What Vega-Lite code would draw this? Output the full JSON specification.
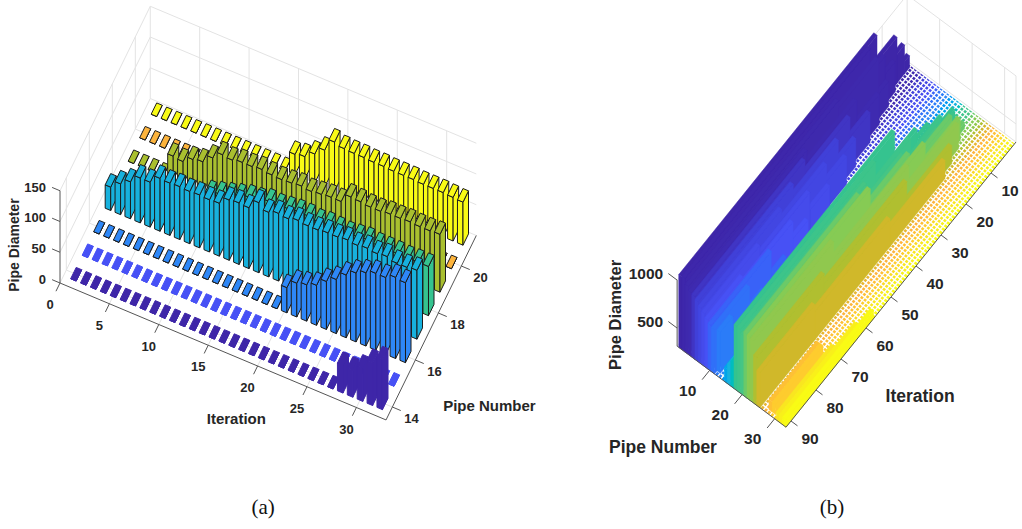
{"$schema":"https://vega.github.io/schema/vega-lite/v6.json","width":1022,"height":529,"padding":0,"autosize":{"type":"none"},"background":"white","config":{"view":{"stroke":null}},
"datasets":{
"aBars":[
{"p":21,"i":1,"d":0},{"p":21,"i":2,"d":0},{"p":21,"i":3,"d":0},{"p":21,"i":4,"d":0},{"p":21,"i":5,"d":0},{"p":21,"i":6,"d":0},{"p":21,"i":7,"d":0},{"p":21,"i":8,"d":0},{"p":21,"i":9,"d":0},{"p":21,"i":10,"d":0},{"p":21,"i":11,"d":0},{"p":21,"i":12,"d":0},{"p":21,"i":13,"d":0},{"p":21,"i":14,"d":0},{"p":21,"i":15,"d":33},{"p":21,"i":16,"d":36},{"p":21,"i":17,"d":47},{"p":21,"i":18,"d":60},{"p":21,"i":19,"d":80},{"p":21,"i":20,"d":76},{"p":21,"i":21,"d":75},{"p":21,"i":22,"d":75},{"p":21,"i":23,"d":74},{"p":21,"i":24,"d":74},{"p":21,"i":25,"d":73},{"p":21,"i":26,"d":73},{"p":21,"i":27,"d":73},{"p":21,"i":28,"d":72},{"p":21,"i":29,"d":72},{"p":21,"i":30,"d":72},{"p":21,"i":31,"d":71},{"p":21,"i":32,"d":70},
{"p":20,"i":1,"d":0},{"p":20,"i":2,"d":0},{"p":20,"i":3,"d":0},{"p":20,"i":4,"d":0},{"p":20,"i":5,"d":0},{"p":20,"i":6,"d":0},{"p":20,"i":7,"d":0},{"p":20,"i":8,"d":0},{"p":20,"i":9,"d":0},{"p":20,"i":10,"d":0},{"p":20,"i":11,"d":0},{"p":20,"i":12,"d":0},{"p":20,"i":13,"d":0},{"p":20,"i":14,"d":0},{"p":20,"i":15,"d":0},{"p":20,"i":16,"d":0},{"p":20,"i":17,"d":0},{"p":20,"i":18,"d":0},{"p":20,"i":19,"d":0},{"p":20,"i":20,"d":0},{"p":20,"i":21,"d":0},{"p":20,"i":22,"d":0},{"p":20,"i":23,"d":0},{"p":20,"i":24,"d":0},{"p":20,"i":25,"d":0},{"p":20,"i":26,"d":0},{"p":20,"i":27,"d":0},{"p":20,"i":28,"d":0},{"p":20,"i":29,"d":0},{"p":20,"i":30,"d":0},{"p":20,"i":31,"d":0},{"p":20,"i":32,"d":0},
{"p":19,"i":1,"d":0},{"p":19,"i":2,"d":0},{"p":19,"i":3,"d":0},{"p":19,"i":4,"d":0},{"p":19,"i":5,"d":39},{"p":19,"i":6,"d":37},{"p":19,"i":7,"d":47},{"p":19,"i":8,"d":50},{"p":19,"i":9,"d":63},{"p":19,"i":10,"d":75},{"p":19,"i":11,"d":73},{"p":19,"i":12,"d":76},{"p":19,"i":13,"d":76},{"p":19,"i":14,"d":78},{"p":19,"i":15,"d":76},{"p":19,"i":16,"d":75},{"p":19,"i":17,"d":76},{"p":19,"i":18,"d":78},{"p":19,"i":19,"d":76},{"p":19,"i":20,"d":78},{"p":19,"i":21,"d":80},{"p":19,"i":22,"d":80},{"p":19,"i":23,"d":94},{"p":19,"i":24,"d":93},{"p":19,"i":25,"d":91},{"p":19,"i":26,"d":91},{"p":19,"i":27,"d":93},{"p":19,"i":28,"d":93},{"p":19,"i":29,"d":94},{"p":19,"i":30,"d":93},{"p":19,"i":31,"d":93},{"p":19,"i":32,"d":94},
{"p":18,"i":1,"d":0},{"p":18,"i":2,"d":0},{"p":18,"i":3,"d":0},{"p":18,"i":4,"d":0},{"p":18,"i":5,"d":0},{"p":18,"i":6,"d":0},{"p":18,"i":7,"d":0},{"p":18,"i":8,"d":0},{"p":18,"i":9,"d":0},{"p":18,"i":10,"d":50},{"p":18,"i":11,"d":55},{"p":18,"i":12,"d":60},{"p":18,"i":13,"d":65},{"p":18,"i":14,"d":70},{"p":18,"i":15,"d":72},{"p":18,"i":16,"d":77},{"p":18,"i":17,"d":76},{"p":18,"i":18,"d":78},{"p":18,"i":19,"d":80},{"p":18,"i":20,"d":80},{"p":18,"i":21,"d":78},{"p":18,"i":22,"d":80},{"p":18,"i":23,"d":79},{"p":18,"i":24,"d":78},{"p":18,"i":25,"d":80},{"p":18,"i":26,"d":82},{"p":18,"i":27,"d":80},{"p":18,"i":28,"d":80},{"p":18,"i":29,"d":80},{"p":18,"i":30,"d":79},{"p":18,"i":31,"d":80},{"p":18,"i":32,"d":80},
{"p":17,"i":1,"d":38},{"p":17,"i":2,"d":50},{"p":17,"i":3,"d":60},{"p":17,"i":4,"d":73},{"p":17,"i":5,"d":73},{"p":17,"i":6,"d":86},{"p":17,"i":7,"d":85},{"p":17,"i":8,"d":86},{"p":17,"i":9,"d":85},{"p":17,"i":10,"d":86},{"p":17,"i":11,"d":85},{"p":17,"i":12,"d":86},{"p":17,"i":13,"d":98},{"p":17,"i":14,"d":100},{"p":17,"i":15,"d":99},{"p":17,"i":16,"d":114},{"p":17,"i":17,"d":105},{"p":17,"i":18,"d":110},{"p":17,"i":19,"d":108},{"p":17,"i":20,"d":112},{"p":17,"i":21,"d":110},{"p":17,"i":22,"d":110},{"p":17,"i":23,"d":112},{"p":17,"i":24,"d":112},{"p":17,"i":25,"d":114},{"p":17,"i":26,"d":112},{"p":17,"i":27,"d":114},{"p":17,"i":28,"d":112},{"p":17,"i":29,"d":114},{"p":17,"i":30,"d":110},{"p":17,"i":31,"d":110},{"p":17,"i":32,"d":112},
{"p":16,"i":1,"d":0},{"p":16,"i":2,"d":0},{"p":16,"i":3,"d":0},{"p":16,"i":4,"d":0},{"p":16,"i":5,"d":0},{"p":16,"i":6,"d":0},{"p":16,"i":7,"d":0},{"p":16,"i":8,"d":0},{"p":16,"i":9,"d":0},{"p":16,"i":10,"d":0},{"p":16,"i":11,"d":0},{"p":16,"i":12,"d":0},{"p":16,"i":13,"d":0},{"p":16,"i":14,"d":0},{"p":16,"i":15,"d":0},{"p":16,"i":16,"d":0},{"p":16,"i":17,"d":0},{"p":16,"i":18,"d":0},{"p":16,"i":19,"d":0},{"p":16,"i":20,"d":41},{"p":16,"i":21,"d":55},{"p":16,"i":22,"d":59},{"p":16,"i":23,"d":65},{"p":16,"i":24,"d":78},{"p":16,"i":25,"d":88},{"p":16,"i":26,"d":102},{"p":16,"i":27,"d":112},{"p":16,"i":28,"d":119},{"p":16,"i":29,"d":125},{"p":16,"i":30,"d":125},{"p":16,"i":31,"d":132},{"p":16,"i":32,"d":130},
{"p":15,"i":1,"d":0},{"p":15,"i":2,"d":0},{"p":15,"i":3,"d":0},{"p":15,"i":4,"d":0},{"p":15,"i":5,"d":0},{"p":15,"i":6,"d":0},{"p":15,"i":7,"d":0},{"p":15,"i":8,"d":0},{"p":15,"i":9,"d":0},{"p":15,"i":10,"d":0},{"p":15,"i":11,"d":0},{"p":15,"i":12,"d":0},{"p":15,"i":13,"d":0},{"p":15,"i":14,"d":0},{"p":15,"i":15,"d":0},{"p":15,"i":16,"d":0},{"p":15,"i":17,"d":0},{"p":15,"i":18,"d":0},{"p":15,"i":19,"d":0},{"p":15,"i":20,"d":0},{"p":15,"i":21,"d":0},{"p":15,"i":22,"d":0},{"p":15,"i":23,"d":0},{"p":15,"i":24,"d":0},{"p":15,"i":25,"d":0},{"p":15,"i":26,"d":0},{"p":15,"i":27,"d":0},{"p":15,"i":28,"d":0},{"p":15,"i":29,"d":0},{"p":15,"i":30,"d":0},{"p":15,"i":31,"d":0},{"p":15,"i":32,"d":0},
{"p":14,"i":1,"d":0},{"p":14,"i":2,"d":0},{"p":14,"i":3,"d":0},{"p":14,"i":4,"d":0},{"p":14,"i":5,"d":0},{"p":14,"i":6,"d":0},{"p":14,"i":7,"d":0},{"p":14,"i":8,"d":0},{"p":14,"i":9,"d":0},{"p":14,"i":10,"d":0},{"p":14,"i":11,"d":0},{"p":14,"i":12,"d":0},{"p":14,"i":13,"d":0},{"p":14,"i":14,"d":0},{"p":14,"i":15,"d":0},{"p":14,"i":16,"d":0},{"p":14,"i":17,"d":0},{"p":14,"i":18,"d":0},{"p":14,"i":19,"d":0},{"p":14,"i":20,"d":0},{"p":14,"i":21,"d":0},{"p":14,"i":22,"d":0},{"p":14,"i":23,"d":0},{"p":14,"i":24,"d":0},{"p":14,"i":25,"d":0},{"p":14,"i":26,"d":0},{"p":14,"i":27,"d":0},{"p":14,"i":28,"d":45},{"p":14,"i":29,"d":44},{"p":14,"i":30,"d":54},{"p":14,"i":31,"d":70},{"p":14,"i":32,"d":81}
],
"aRules":[
{"k":"g","i":0,"p":21.3,"z":0,"i2":33,"p2":21.3,"z2":0},{"k":"g","i":0,"p":21.3,"z":50,"i2":33,"p2":21.3,"z2":50},{"k":"g","i":0,"p":21.3,"z":100,"i2":33,"p2":21.3,"z2":100},{"k":"g","i":0,"p":21.3,"z":150,"i2":33,"p2":21.3,"z2":150},
{"k":"g","i":0,"p":21.3,"z":0,"i2":0,"p2":21.3,"z2":150},{"k":"g","i":5,"p":21.3,"z":0,"i2":5,"p2":21.3,"z2":150},{"k":"g","i":10,"p":21.3,"z":0,"i2":10,"p2":21.3,"z2":150},{"k":"g","i":15,"p":21.3,"z":0,"i2":15,"p2":21.3,"z2":150},{"k":"g","i":20,"p":21.3,"z":0,"i2":20,"p2":21.3,"z2":150},{"k":"g","i":25,"p":21.3,"z":0,"i2":25,"p2":21.3,"z2":150},{"k":"g","i":30,"p":21.3,"z":0,"i2":30,"p2":21.3,"z2":150},
{"k":"g","i":0,"p":13.45,"z":50,"i2":0,"p2":21.3,"z2":50},{"k":"g","i":0,"p":13.45,"z":100,"i2":0,"p2":21.3,"z2":100},{"k":"g","i":0,"p":13.45,"z":150,"i2":0,"p2":21.3,"z2":150},
{"k":"g","i":0,"p":14,"z":0,"i2":0,"p2":14,"z2":150},{"k":"g","i":0,"p":16,"z":0,"i2":0,"p2":16,"z2":150},{"k":"g","i":0,"p":18,"z":0,"i2":0,"p2":18,"z2":150},{"k":"g","i":0,"p":20,"z":0,"i2":0,"p2":20,"z2":150},
{"k":"g","i":0,"p":13.45,"z":0,"i2":0,"p2":21.3,"z2":0},{"k":"g","i":5,"p":13.45,"z":0,"i2":5,"p2":21.3,"z2":0},{"k":"g","i":10,"p":13.45,"z":0,"i2":10,"p2":21.3,"z2":0},{"k":"g","i":15,"p":13.45,"z":0,"i2":15,"p2":21.3,"z2":0},{"k":"g","i":20,"p":13.45,"z":0,"i2":20,"p2":21.3,"z2":0},{"k":"g","i":25,"p":13.45,"z":0,"i2":25,"p2":21.3,"z2":0},{"k":"g","i":30,"p":13.45,"z":0,"i2":30,"p2":21.3,"z2":0},
{"k":"g","i":0,"p":14,"z":0,"i2":33,"p2":14,"z2":0},{"k":"g","i":0,"p":16,"z":0,"i2":33,"p2":16,"z2":0},{"k":"g","i":0,"p":18,"z":0,"i2":33,"p2":18,"z2":0},{"k":"g","i":0,"p":20,"z":0,"i2":33,"p2":20,"z2":0}
],
"aAxes":[
{"k":"a","i":0,"p":13.45,"z":0,"i2":0,"p2":13.45,"z2":150},{"k":"a","i":0,"p":13.45,"z":0,"i2":33,"p2":13.45,"z2":0},{"k":"a","i":33,"p":13.45,"z":0,"i2":33,"p2":21.3,"z2":0},
{"k":"a","i":0,"p":13.45,"z":0,"i2":-0.8,"p2":13.45,"z2":0},{"k":"a","i":0,"p":13.45,"z":50,"i2":-0.8,"p2":13.45,"z2":50},{"k":"a","i":0,"p":13.45,"z":100,"i2":-0.8,"p2":13.45,"z2":100},{"k":"a","i":0,"p":13.45,"z":150,"i2":-0.8,"p2":13.45,"z2":150},
{"k":"a","i":0,"p":13.45,"z":0,"i2":0,"p2":13.1,"z2":0},{"k":"a","i":5,"p":13.45,"z":0,"i2":5,"p2":13.1,"z2":0},{"k":"a","i":10,"p":13.45,"z":0,"i2":10,"p2":13.1,"z2":0},{"k":"a","i":15,"p":13.45,"z":0,"i2":15,"p2":13.1,"z2":0},{"k":"a","i":20,"p":13.45,"z":0,"i2":20,"p2":13.1,"z2":0},{"k":"a","i":25,"p":13.45,"z":0,"i2":25,"p2":13.1,"z2":0},{"k":"a","i":30,"p":13.45,"z":0,"i2":30,"p2":13.1,"z2":0},
{"k":"a","i":33,"p":14,"z":0,"i2":33.85,"p2":14,"z2":0},{"k":"a","i":33,"p":16,"z":0,"i2":33.85,"p2":16,"z2":0},{"k":"a","i":33,"p":18,"z":0,"i2":33.85,"p2":18,"z2":0},{"k":"a","i":33,"p":20,"z":0,"i2":33.85,"p2":20,"z2":0}
],
"aText":[
{"k":"tick","t":"0","i":0.064,"p":12.525,"z":0},{"k":"tick","t":"5","i":5.064,"p":12.525,"z":0},{"k":"tick","t":"10","i":10.064,"p":12.525,"z":0},{"k":"tick","t":"15","i":15.064,"p":12.525,"z":0},{"k":"tick","t":"20","i":20.064,"p":12.525,"z":0},{"k":"tick","t":"25","i":25.064,"p":12.525,"z":0},{"k":"tick","t":"30","i":30.064,"p":12.525,"z":0},
{"k":"tick","t":"14","i":35.09,"p":13.858,"z":0},{"k":"tick","t":"16","i":35.09,"p":15.858,"z":0},{"k":"tick","t":"18","i":35.09,"p":17.858,"z":0},{"k":"tick","t":"20","i":35.09,"p":19.858,"z":0},
{"k":"title","t":"Iteration","i":20.4,"p":11.26,"z":0},{"k":"title","t":"Pipe Number","i":41.1,"p":15.48,"z":0}
],
"aV":[{"t":"Pipe Diameter","i":-5.34,"p":14.12,"z":0}],
"aZ":[{"t":"0","i":-1.3,"p":13.35,"z":0},{"t":"50","i":-1.3,"p":13.35,"z":50},{"t":"100","i":-1.3,"p":13.35,"z":100},{"t":"150","i":-1.3,"p":13.35,"z":150}],
"aCap":[{"t":"(a)","i":26.3,"p":8.52,"z":0}],
"bFloor":[{"p":1},{"p":2},{"p":3},{"p":4},{"p":5},{"p":6},{"p":7},{"p":8},{"p":9},{"p":10},{"p":11},{"p":12},{"p":13},{"p":14},{"p":15},{"p":16},{"p":17},{"p":18},{"p":19},{"p":20},{"p":21},{"p":22},{"p":23},{"p":24},{"p":25},{"p":26},{"p":27},{"p":28},{"p":29},{"p":30},{"p":31},{"p":32},{"p":33}],
"bMeshI":[{"i":1},{"i":2},{"i":3},{"i":4},{"i":5},{"i":6},{"i":7},{"i":8},{"i":9},{"i":10},{"i":11},{"i":12},{"i":13},{"i":14},{"i":15},{"i":16},{"i":17},{"i":18},{"i":19},{"i":20},{"i":21},{"i":22},{"i":23},{"i":24},{"i":25},{"i":26},{"i":27},{"i":28},{"i":29},{"i":30},{"i":31},{"i":32},{"i":33},{"i":34},{"i":35},{"i":36},{"i":37},{"i":38},{"i":39},{"i":40},{"i":41},{"i":42},{"i":43},{"i":44},{"i":45},{"i":46},{"i":47},{"i":48},{"i":49},{"i":50},{"i":51},{"i":52},{"i":53},{"i":54},{"i":55},{"i":56},{"i":57},{"i":58},{"i":59},{"i":60},{"i":61},{"i":62},{"i":63},{"i":64},{"i":65},{"i":66},{"i":67},{"i":68},{"i":69},{"i":70},{"i":71},{"i":72},{"i":73},{"i":74},{"i":75},{"i":76},{"i":77},{"i":78},{"i":79},{"i":80},{"i":81},{"i":82},{"i":83},{"i":84},{"i":85},{"i":86},{"i":87},{"i":88},{"i":89},{"i":90},{"i":91}],
"bBlocks":[
{"p":1,"a":1,"b":3,"d":437},{"p":1,"a":3,"b":6,"d":614},{"p":1,"a":6,"b":14,"d":791},{"p":1,"a":14,"b":92,"d":1070},
{"p":2,"a":8,"b":12,"d":625},{"p":2,"a":12,"b":18,"d":812},{"p":2,"a":18,"b":92,"d":1083},
{"p":3,"a":12,"b":16,"d":572},{"p":3,"a":16,"b":32,"d":937},{"p":3,"a":32,"b":92,"d":1021},
{"p":4,"a":17,"b":26,"d":625},{"p":4,"a":26,"b":46,"d":854},{"p":4,"a":46,"b":92,"d":979},
{"p":5,"a":22,"b":30,"d":625},{"p":5,"a":30,"b":48,"d":833},{"p":5,"a":48,"b":92,"d":968},
{"p":6,"a":29,"b":36,"d":604},{"p":6,"a":36,"b":54,"d":812},{"p":6,"a":54,"b":92,"d":937},
{"p":7,"a":34,"b":42,"d":604},{"p":7,"a":42,"b":60,"d":781},{"p":7,"a":60,"b":92,"d":895},
{"p":8,"a":42,"b":50,"d":583},{"p":8,"a":50,"b":70,"d":770},{"p":8,"a":70,"b":92,"d":864},
{"p":9,"a":52,"b":58,"d":572},{"p":9,"a":58,"b":78,"d":750},{"p":9,"a":78,"b":92,"d":823},
{"p":10,"a":62,"b":68,"d":541},{"p":10,"a":68,"b":92,"d":791},
{"p":11,"a":72,"b":78,"d":541},{"p":11,"a":78,"b":92,"d":770},
{"p":12,"a":82,"b":86,"d":520},{"p":12,"a":86,"b":91,"d":739},
{"p":15,"a":86,"b":92,"d":458},{"p":16,"a":84,"b":92,"d":520},{"p":17,"a":83,"b":92,"d":572},
{"p":18,"a":5,"b":10,"d":437},{"p":18,"a":10,"b":15,"d":520},{"p":18,"a":15,"b":20,"d":604},{"p":18,"a":20,"b":29,"d":708},{"p":18,"a":29,"b":92,"d":979},
{"p":19,"a":6,"b":12,"d":437},{"p":19,"a":12,"b":24,"d":572},{"p":19,"a":24,"b":38,"d":770},{"p":19,"a":38,"b":92,"d":979},
{"p":20,"a":7,"b":14,"d":416},{"p":20,"a":14,"b":28,"d":572},{"p":20,"a":28,"b":43,"d":750},{"p":20,"a":43,"b":92,"d":937},
{"p":21,"a":5,"b":10,"d":375},{"p":21,"a":10,"b":27,"d":604},{"p":21,"a":27,"b":47,"d":760},{"p":21,"a":47,"b":92,"d":979},
{"p":22,"a":8,"b":22,"d":541},{"p":22,"a":22,"b":44,"d":729},{"p":22,"a":44,"b":92,"d":968},
{"p":23,"a":10,"b":30,"d":572},{"p":23,"a":30,"b":60,"d":781},{"p":23,"a":60,"b":92,"d":958},
{"p":24,"a":14,"b":32,"d":500},{"p":24,"a":32,"b":65,"d":708},{"p":24,"a":65,"b":92,"d":812},
{"p":25,"a":18,"b":40,"d":500},{"p":25,"a":40,"b":70,"d":604},{"p":25,"a":70,"b":92,"d":677},
{"p":28,"a":72,"b":91,"d":416},{"p":29,"a":72,"b":91,"d":416},
{"p":31,"a":70,"b":92,"d":395},{"p":32,"a":62,"b":92,"d":395},{"p":33,"a":57,"b":92,"d":395}
],
"bRules":[
{"k":"g","i":0,"p":0,"z":312,"i2":92,"p2":0,"z2":312},{"k":"g","i":0,"p":0,"z":500,"i2":92,"p2":0,"z2":500},{"k":"g","i":0,"p":0,"z":1000,"i2":92,"p2":0,"z2":1000},
{"k":"g","i":0,"p":0,"z":312,"i2":0,"p2":33.5,"z2":312},{"k":"g","i":0,"p":0,"z":500,"i2":0,"p2":33.5,"z2":500},{"k":"g","i":0,"p":0,"z":1000,"i2":0,"p2":33.5,"z2":1000},
{"k":"g","i":0,"p":10,"z":312,"i2":0,"p2":10,"z2":1000},{"k":"g","i":0,"p":20,"z":312,"i2":0,"p2":20,"z2":1000},{"k":"g","i":0,"p":30,"z":312,"i2":0,"p2":30,"z2":1000},{"k":"g","i":0,"p":33.5,"z":312,"i2":0,"p2":33.5,"z2":1000},
{"k":"g","i":0,"p":0,"z":312,"i2":0,"p2":0,"z2":1000},{"k":"g","i":10,"p":0,"z":312,"i2":10,"p2":0,"z2":1000},{"k":"g","i":20,"p":0,"z":312,"i2":20,"p2":0,"z2":1000}
],
"bAxes":[
{"k":"a","i":92,"p":0,"z":312,"i2":92,"p2":0,"z2":1000},{"k":"a","i":92,"p":0,"z":312,"i2":92,"p2":33.5,"z2":312},{"k":"a","i":92,"p":33.5,"z":312,"i2":0,"p2":33.5,"z2":312},
{"k":"a","i":92,"p":0,"z":500,"i2":92,"p2":-2.7,"z2":500},{"k":"a","i":92,"p":0,"z":1000,"i2":92,"p2":-2.7,"z2":1000},
{"k":"a","i":92,"p":10,"z":312,"i2":95,"p2":10,"z2":312},{"k":"a","i":92,"p":20,"z":312,"i2":95,"p2":20,"z2":312},{"k":"a","i":92,"p":30,"z":312,"i2":95,"p2":30,"z2":312},
{"k":"a","i":10,"p":33.5,"z":312,"i2":10,"p2":35.5,"z2":312},{"k":"a","i":20,"p":33.5,"z":312,"i2":20,"p2":35.5,"z2":312},{"k":"a","i":30,"p":33.5,"z":312,"i2":30,"p2":35.5,"z2":312},{"k":"a","i":40,"p":33.5,"z":312,"i2":40,"p2":35.5,"z2":312},{"k":"a","i":50,"p":33.5,"z":312,"i2":50,"p2":35.5,"z2":312},{"k":"a","i":60,"p":33.5,"z":312,"i2":60,"p2":35.5,"z2":312},{"k":"a","i":70,"p":33.5,"z":312,"i2":70,"p2":35.5,"z2":312},{"k":"a","i":80,"p":33.5,"z":312,"i2":80,"p2":35.5,"z2":312},{"k":"a","i":90,"p":33.5,"z":312,"i2":90,"p2":35.5,"z2":312}
],
"bText":[
{"k":"tick","t":"10","i":10.78,"p":39.95,"z":312},{"k":"tick","t":"20","i":20.78,"p":39.95,"z":312},{"k":"tick","t":"30","i":30.78,"p":39.95,"z":312},{"k":"tick","t":"40","i":40.78,"p":39.95,"z":312},{"k":"tick","t":"50","i":50.78,"p":39.95,"z":312},{"k":"tick","t":"60","i":60.78,"p":39.95,"z":312},{"k":"tick","t":"70","i":70.78,"p":39.95,"z":312},{"k":"tick","t":"80","i":80.78,"p":39.95,"z":312},{"k":"tick","t":"90","i":90.78,"p":39.95,"z":312},
{"k":"tick","t":"10","i":99.43,"p":8.95,"z":312},{"k":"tick","t":"20","i":99.43,"p":18.95,"z":312},{"k":"tick","t":"30","i":99.43,"p":28.95,"z":312},
{"k":"title","t":"Iteration","i":65.8,"p":54.6,"z":312},{"k":"title","t":"Pipe Number","i":114.7,"p":13.1,"z":312}
],
"bV":[{"t":"Pipe Diameter","i":94.9,"p":-16.6,"z":312}],
"bZ":[{"t":"500","i":92.79,"p":-3.7,"z":500},{"t":"1000","i":92.79,"p":-3.7,"z":1000}],
"bCap":[{"t":"(b)","i":101.4,"p":54.9,"z":312}]
},
"layer":[
{"data":{"name":"aRules"},"transform":[
{"calculate":"60+9.88*datum.i+11.5*(datum.p-13.45)","as":"sx"},{"calculate":"283+4.15*datum.i-23.5*(datum.p-13.45)-0.615*datum.z","as":"sy"},
{"calculate":"60+9.88*datum.i2+11.5*(datum.p2-13.45)","as":"sx2"},{"calculate":"283+4.15*datum.i2-23.5*(datum.p2-13.45)-0.615*datum.z2","as":"sy2"}],
"mark":{"type":"rule","stroke":"#e3e3e3","strokeWidth":1},
"encoding":{"x":{"field":"sx","type":"quantitative","scale":{"domain":[0,1022],"nice":false,"zero":false},"axis":null},"y":{"field":"sy","type":"quantitative","scale":{"domain":[0,529],"reverse":true,"nice":false,"zero":false},"axis":null},"x2":{"field":"sx2"},"y2":{"field":"sy2"}}},
{"data":{"name":"aBars"},"transform":[
{"calculate":"[0,1,2]","as":"f"},{"flatten":["f"]},{"calculate":"[0,1,2,3]","as":"v"},{"flatten":["v"]},
{"calculate":"datum.i+0.28*[[-1,1,1,-1],[1,1,1,1],[-1,1,1,-1]][datum.f][datum.v]","as":"vi"},
{"calculate":"datum.p+0.24*[[-1,-1,-1,-1],[-1,1,1,-1],[-1,-1,1,1]][datum.f][datum.v]","as":"vp"},
{"calculate":"datum.d*[[0,0,1,1],[0,0,1,1],[1,1,1,1]][datum.f][datum.v]","as":"vz"},
{"calculate":"60+9.88*datum.vi+11.5*(datum.vp-13.45)","as":"sx"},{"calculate":"283+4.15*datum.vi-23.5*(datum.vp-13.45)-0.615*datum.vz","as":"sy"},
{"calculate":"(30-datum.p)*100000+datum.i*100+datum.f","as":"fid"}],
"mark":{"type":"line","interpolate":"linear-closed","strokeWidth":1,"strokeJoin":"round"},
"encoding":{"x":{"field":"sx","type":"quantitative","axis":null},"y":{"field":"sy","type":"quantitative","axis":null},"order":{"field":"v"},"detail":{"field":"fid"},
"fill":{"field":"p","type":"nominal","legend":null,"scale":{"domain":[14,15,16,17,18,19,20,21],"range":["#3E26A8","#4751F5","#2E87F7","#17B1DD","#35C38F","#A9BF2F","#FDB43C","#F9FB15"]}},
"stroke":{"field":"p","type":"nominal","legend":null,"scale":{"domain":[14,15,16,17,18,19,20,21],"range":["#3E26A8","#4751F5","#1c1c1c","#1c1c1c","#1c1c1c","#1c1c1c","#1c1c1c","#1c1c1c"]}}}},
{"data":{"name":"aAxes"},"transform":[
{"calculate":"60+9.88*datum.i+11.5*(datum.p-13.45)","as":"sx"},{"calculate":"283+4.15*datum.i-23.5*(datum.p-13.45)-0.615*datum.z","as":"sy"},
{"calculate":"60+9.88*datum.i2+11.5*(datum.p2-13.45)","as":"sx2"},{"calculate":"283+4.15*datum.i2-23.5*(datum.p2-13.45)-0.615*datum.z2","as":"sy2"}],
"mark":{"type":"rule","stroke":"#555555","strokeWidth":1},
"encoding":{"x":{"field":"sx","type":"quantitative","axis":null},"y":{"field":"sy","type":"quantitative","axis":null},"x2":{"field":"sx2"},"y2":{"field":"sy2"}}},
{"data":{"name":"aText"},"transform":[
{"calculate":"60+9.88*datum.i+11.5*(datum.p-13.45)","as":"sx"},{"calculate":"283+4.15*datum.i-23.5*(datum.p-13.45)-0.615*datum.z","as":"sy"}],
"mark":{"type":"text","font":"Liberation Sans","fontWeight":"bold","color":"#262626","baseline":"middle","align":"center"},
"encoding":{"x":{"field":"sx","type":"quantitative","axis":null},"y":{"field":"sy","type":"quantitative","axis":null},"text":{"field":"t"},
"size":{"field":"k","type":"nominal","legend":null,"scale":{"domain":["tick","title"],"range":[13,15]}}}},
{"data":{"name":"aV"},"transform":[
{"calculate":"60+9.88*datum.i+11.5*(datum.p-13.45)","as":"sx"},{"calculate":"283+4.15*datum.i-23.5*(datum.p-13.45)-0.615*datum.z","as":"sy"}],
"mark":{"type":"text","font":"Liberation Sans","fontWeight":"bold","fontSize":14,"angle":270,"color":"#262626","baseline":"middle","align":"center"},
"encoding":{"x":{"field":"sx","type":"quantitative","axis":null},"y":{"field":"sy","type":"quantitative","axis":null},"text":{"field":"t"}}},
{"data":{"name":"aZ"},"transform":[
{"calculate":"60+9.88*datum.i+11.5*(datum.p-13.45)","as":"sx"},{"calculate":"283+4.15*datum.i-23.5*(datum.p-13.45)-0.615*datum.z","as":"sy"}],
"mark":{"type":"text","font":"Liberation Sans","fontWeight":"bold","fontSize":13,"color":"#262626","baseline":"middle","align":"right"},
"encoding":{"x":{"field":"sx","type":"quantitative","axis":null},"y":{"field":"sy","type":"quantitative","axis":null},"text":{"field":"t"}}},
{"data":{"name":"aCap"},"transform":[
{"calculate":"60+9.88*datum.i+11.5*(datum.p-13.45)","as":"sx"},{"calculate":"283+4.15*datum.i-23.5*(datum.p-13.45)-0.615*datum.z","as":"sy"}],
"mark":{"type":"text","font":"Liberation Serif","fontSize":21,"color":"#111111","baseline":"middle","align":"center"},
"encoding":{"x":{"field":"sx","type":"quantitative","axis":null},"y":{"field":"sy","type":"quantitative","axis":null},"text":{"field":"t"}}},
{"data":{"name":"bRules"},"transform":[
{"calculate":"1016-2.5*datum.i+3.25*(datum.p-33.5)","as":"sx"},{"calculate":"142+3.1*datum.i+2.42*(datum.p-33.5)-0.096*(datum.z-312)","as":"sy"},
{"calculate":"1016-2.5*datum.i2+3.25*(datum.p2-33.5)","as":"sx2"},{"calculate":"142+3.1*datum.i2+2.42*(datum.p2-33.5)-0.096*(datum.z2-312)","as":"sy2"}],
"mark":{"type":"rule","stroke":"#e3e3e3","strokeWidth":1},
"encoding":{"x":{"field":"sx","type":"quantitative","axis":null},"y":{"field":"sy","type":"quantitative","axis":null},"x2":{"field":"sx2"},"y2":{"field":"sy2"}}},
{"data":{"name":"bFloor"},"transform":[
{"calculate":"[0,1,2,3]","as":"v"},{"flatten":["v"]},
{"calculate":"0.5+91.5*[0,1,1,0][datum.v]","as":"vi"},{"calculate":"datum.p+0.5*[-1,-1,1,1][datum.v]","as":"vp"},
{"calculate":"1016-2.5*datum.vi+3.25*(datum.vp-33.5)","as":"sx"},{"calculate":"142+3.1*datum.vi+2.42*(datum.vp-33.5)","as":"sy"}],
"mark":{"type":"line","interpolate":"linear-closed","strokeWidth":0},
"encoding":{"x":{"field":"sx","type":"quantitative","axis":null},"y":{"field":"sy","type":"quantitative","axis":null},"order":{"field":"v"},"detail":{"field":"p"},
"fill":{"field":"p","type":"quantitative","legend":null,"scale":{"domain":[1,4,6,9,11,13,16,18,20,21.5,23,24,25,27,31,33],"range":["#3E26A8","#3E2AB0","#4040D8","#4751F5","#3070F8","#2E87F7","#17B1DD","#35C38F","#45C585","#80CC58","#90C84E","#B0BF30","#D0B82A","#FDB43C","#F9E620","#F9FB15"]}}}},
{"data":{"name":"bMeshI"},"transform":[
{"calculate":"1016-2.5*datum.i+3.25*(0.5-33.5)","as":"sx"},{"calculate":"142+3.1*datum.i+2.42*(0.5-33.5)","as":"sy"},
{"calculate":"1016-2.5*datum.i","as":"sx2"},{"calculate":"142+3.1*datum.i","as":"sy2"}],
"mark":{"type":"rule","stroke":"white","strokeWidth":1.4},
"encoding":{"x":{"field":"sx","type":"quantitative","axis":null},"y":{"field":"sy","type":"quantitative","axis":null},"x2":{"field":"sx2"},"y2":{"field":"sy2"}}},
{"data":{"name":"bFloor"},"transform":[
{"calculate":"1016-2.5*0.5+3.25*(datum.p-0.5-33.5)","as":"sx"},{"calculate":"142+3.1*0.5+2.42*(datum.p-0.5-33.5)","as":"sy"},
{"calculate":"1016-2.5*92+3.25*(datum.p-0.5-33.5)","as":"sx2"},{"calculate":"142+3.1*92+2.42*(datum.p-0.5-33.5)","as":"sy2"}],
"mark":{"type":"rule","stroke":"white","strokeWidth":1.4},
"encoding":{"x":{"field":"sx","type":"quantitative","axis":null},"y":{"field":"sy","type":"quantitative","axis":null},"x2":{"field":"sx2"},"y2":{"field":"sy2"}}},
{"data":{"name":"bBlocks"},"transform":[
{"calculate":"[0,1,2]","as":"f"},{"flatten":["f"]},{"calculate":"[0,1,2,3]","as":"v"},{"flatten":["v"]},
{"calculate":"datum.a+(datum.b-datum.a)*[[0,1,1,0],[1,1,1,1],[0,1,1,0]][datum.f][datum.v]","as":"vi"},
{"calculate":"datum.p+0.5*[[1,1,1,1],[-1,1,1,-1],[-1,-1,1,1]][datum.f][datum.v]","as":"vp"},
{"calculate":"312+(datum.d-312)*[[0,0,1,1],[0,0,1,1],[1,1,1,1]][datum.f][datum.v]","as":"vz"},
{"calculate":"1016-2.5*datum.vi+3.25*(datum.vp-33.5)","as":"sx"},{"calculate":"142+3.1*datum.vi+2.42*(datum.vp-33.5)-0.096*(datum.vz-312)","as":"sy"},
{"calculate":"datum.p*10000+datum.a*10+datum.f","as":"fid"}],
"mark":{"type":"line","interpolate":"linear-closed","strokeWidth":0.5},
"encoding":{"x":{"field":"sx","type":"quantitative","axis":null},"y":{"field":"sy","type":"quantitative","axis":null},"order":{"field":"v"},"detail":{"field":"fid"},
"fill":{"field":"p","type":"quantitative","legend":null,"scale":{"domain":[1,4,6,9,11,13,16,18,20,21.5,23,24,25,27,31,33],"range":["#3E26A8","#3E2AB0","#4040D8","#4751F5","#3070F8","#2E87F7","#17B1DD","#35C38F","#45C585","#80CC58","#90C84E","#B0BF30","#D0B82A","#FDB43C","#F9E620","#F9FB15"]}},
"stroke":{"field":"p","type":"quantitative","legend":null,"scale":{"domain":[1,4,6,9,11,13,16,18,20,21.5,23,24,25,27,31,33],"range":["#3E26A8","#3E2AB0","#4040D8","#4751F5","#3070F8","#2E87F7","#17B1DD","#35C38F","#45C585","#80CC58","#90C84E","#B0BF30","#D0B82A","#FDB43C","#F9E620","#F9FB15"]}}}},
{"data":{"name":"bAxes"},"transform":[
{"calculate":"1016-2.5*datum.i+3.25*(datum.p-33.5)","as":"sx"},{"calculate":"142+3.1*datum.i+2.42*(datum.p-33.5)-0.096*(datum.z-312)","as":"sy"},
{"calculate":"1016-2.5*datum.i2+3.25*(datum.p2-33.5)","as":"sx2"},{"calculate":"142+3.1*datum.i2+2.42*(datum.p2-33.5)-0.096*(datum.z2-312)","as":"sy2"}],
"mark":{"type":"rule","stroke":"#555555","strokeWidth":1},
"encoding":{"x":{"field":"sx","type":"quantitative","axis":null},"y":{"field":"sy","type":"quantitative","axis":null},"x2":{"field":"sx2"},"y2":{"field":"sy2"}}},
{"data":{"name":"bText"},"transform":[
{"calculate":"1016-2.5*datum.i+3.25*(datum.p-33.5)","as":"sx"},{"calculate":"142+3.1*datum.i+2.42*(datum.p-33.5)-0.096*(datum.z-312)","as":"sy"}],
"mark":{"type":"text","font":"Liberation Sans","fontWeight":"bold","color":"#262626","baseline":"middle","align":"center"},
"encoding":{"x":{"field":"sx","type":"quantitative","axis":null},"y":{"field":"sy","type":"quantitative","axis":null},"text":{"field":"t"},
"size":{"field":"k","type":"nominal","legend":null,"scale":{"domain":["tick","title"],"range":[15.5,17.5]}}}},
{"data":{"name":"bV"},"transform":[
{"calculate":"1016-2.5*datum.i+3.25*(datum.p-33.5)","as":"sx"},{"calculate":"142+3.1*datum.i+2.42*(datum.p-33.5)-0.096*(datum.z-312)","as":"sy"}],
"mark":{"type":"text","font":"Liberation Sans","fontWeight":"bold","fontSize":16.5,"angle":270,"color":"#262626","baseline":"middle","align":"center"},
"encoding":{"x":{"field":"sx","type":"quantitative","axis":null},"y":{"field":"sy","type":"quantitative","axis":null},"text":{"field":"t"}}},
{"data":{"name":"bZ"},"transform":[
{"calculate":"1016-2.5*datum.i+3.25*(datum.p-33.5)","as":"sx"},{"calculate":"142+3.1*datum.i+2.42*(datum.p-33.5)-0.096*(datum.z-312)","as":"sy"}],
"mark":{"type":"text","font":"Liberation Sans","fontWeight":"bold","fontSize":15.5,"color":"#262626","baseline":"middle","align":"right"},
"encoding":{"x":{"field":"sx","type":"quantitative","axis":null},"y":{"field":"sy","type":"quantitative","axis":null},"text":{"field":"t"}}},
{"data":{"name":"bCap"},"transform":[
{"calculate":"1016-2.5*datum.i+3.25*(datum.p-33.5)","as":"sx"},{"calculate":"142+3.1*datum.i+2.42*(datum.p-33.5)-0.096*(datum.z-312)","as":"sy"}],
"mark":{"type":"text","font":"Liberation Serif","fontSize":21,"color":"#111111","baseline":"middle","align":"center"},
"encoding":{"x":{"field":"sx","type":"quantitative","axis":null},"y":{"field":"sy","type":"quantitative","axis":null},"text":{"field":"t"}}}
],
"resolve":{"scale":{"fill":"independent","stroke":"independent","size":"independent"}}
}
